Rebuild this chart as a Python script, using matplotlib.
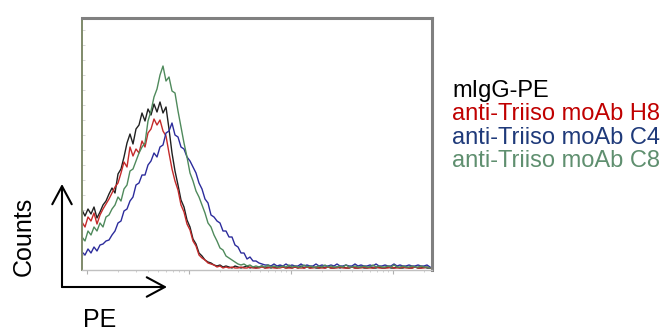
import numpy as np
import matplotlib
matplotlib.use("Agg")
import matplotlib.pyplot as plt
from matplotlib.patches import FancyArrowPatch

plt.rcParams['font.family'] = ['Liberation Sans', 'DejaVu Sans']

# histogram bins (channels), one value every 3 channels
channel = np.arange(0, 351, 3)

migg_pe = [60, 54, 61, 56, 63, 52, 58, 65, 69, 76,
           82, 77, 96, 101, 113, 127, 136, 126, 141, 145,
           157, 149, 161, 155, 166, 158, 168, 157, 163, 141,
           117, 99, 85, 70, 63, 50, 43, 31, 26, 17,
           14, 10, 8, 7, 5, 4, 5, 3, 4, 3,
           2, 4, 3, 2, 3, 4, 2, 3, 2, 3,
           4, 2, 3, 2, 3, 2, 4, 3, 2, 3,
           2, 3, 2, 4, 2, 3, 2, 3, 2, 2,
           3, 2, 3, 2, 2, 3, 2, 3, 2, 2,
           3, 2, 2, 3, 2, 2, 3, 2, 2, 3,
           2, 2, 3, 2, 2, 3, 2, 2, 3, 2,
           2, 3, 2, 2, 3, 2, 2]

moab_h8 = [48, 43, 53, 49, 57, 46, 55, 61, 66, 71,
           77, 83, 87, 97, 108, 103, 123, 114, 121, 117,
           129, 123, 137, 141, 151, 145, 150, 139, 134, 117,
           101, 89, 80, 65, 58, 46, 40, 29, 24, 15,
           12, 10, 7, 6, 5, 3, 4, 2, 3, 2,
           3, 2, 2, 3, 2, 2, 3, 2, 2, 2,
           3, 2, 2, 3, 2, 2, 2, 3, 2, 2,
           2, 3, 2, 2, 2, 3, 2, 2, 3, 2,
           2, 2, 3, 2, 2, 2, 3, 2, 2, 2,
           3, 2, 2, 2, 3, 2, 2, 2, 3, 2,
           2, 2, 2, 3, 2, 2, 2, 3, 2, 2,
           2, 3, 2, 2, 2, 3, 2]

moab_c4 = [18, 15, 21, 17, 23, 19, 25, 26, 29, 30,
           35, 39, 47, 49, 59, 61, 69, 73, 85, 87,
           95, 95, 105, 109, 117, 113, 123, 125, 137, 139,
           147, 135, 133, 123, 121, 113, 109, 103, 97, 87,
           81, 71, 67, 55, 53, 49, 47, 39, 39, 33,
           33, 25, 23, 17, 17, 11, 13, 9, 9, 7,
           6, 5, 5, 4, 6, 4, 5, 4, 6, 4,
           5, 4, 4, 6, 4, 5, 4, 4, 6, 4,
           5, 4, 4, 5, 4, 6, 4, 4, 5, 4,
           4, 6, 4, 5, 4, 4, 5, 4, 6, 4,
           4, 5, 4, 4, 6, 4, 5, 4, 4, 5,
           4, 4, 5, 4, 4, 5, 3]

moab_c8 = [33, 29, 39, 35, 43, 39, 47, 43, 53, 55,
           61, 65, 73, 69, 81, 85, 99, 101, 109, 117,
           123, 127, 149, 159, 173, 181, 195, 204, 189, 193,
           179, 177, 159, 143, 127, 113, 97, 89, 79, 73,
           65, 57, 47, 43, 35, 29, 22, 20, 14, 12,
           10, 8, 6, 5, 6, 4, 5, 3, 4, 3,
           4, 3, 5, 3, 4, 3, 3, 4, 3, 5,
           3, 4, 3, 3, 5, 3, 4, 3, 3, 4,
           3, 5, 3, 4, 3, 3, 4, 3, 5, 3,
           3, 4, 3, 3, 4, 3, 3, 5, 3, 4,
           3, 3, 4, 3, 5, 3, 3, 4, 3, 3,
           4, 3, 3, 4, 3, 3, 2]

labels = ['mIgG-PE', 'anti-Triiso moAb H8', 'anti-Triiso moAb C4', 'anti-Triiso moAb C8']
line_colors = ['#202020', '#c42a2a', '#2c2c9c', '#4f8a5c']
text_colors = ['#000000', '#c00000', '#1f3a7a', '#5f8f6f']

fig = plt.figure(figsize=(6.67, 3.31), dpi=100)
ax = fig.add_axes([82 / 667, 1 - 270 / 331, 350 / 667, 252 / 331])

for series, col in zip([migg_pe, moab_h8, moab_c4, moab_c8], line_colors):
    ax.plot(channel, series, color=col, lw=1.0)

ax.set_xlim(0, 350)
ax.set_ylim(0, 252)

# log-decade tick marks on the PE axis
decade = 102
major = [5 + decade * k for k in range(4)]
minor = [5 + decade * k + decade * np.log10(m) for k in range(4) for m in range(2, 10)]
minor = [m for m in minor if m < 350]
ax.set_xticks(major)
ax.set_xticks(minor, minor=True)
ax.tick_params(axis='x', which='major', length=3, width=0.8, color='#b0b0b0', labelbottom=False)
ax.tick_params(axis='x', which='minor', length=1.5, width=0.6, color='#c8c8c8')
ax.set_yticks(np.arange(0, 252, 15))
ax.tick_params(axis='y', length=2, width=0.6, color='#d0d0d0', direction='in', labelleft=False)

ax.spines['top'].set_color('#808080')
ax.spines['top'].set_linewidth(2.2)
ax.spines['right'].set_color('#808080')
ax.spines['right'].set_linewidth(2.2)
ax.spines['left'].set_color('#7f8a6a')
ax.spines['left'].set_linewidth(1.4)
ax.spines['bottom'].set_color('#c0c0c0')
ax.spines['bottom'].set_linewidth(1.0)

# axis arrows
corner = (62 / 667, 1 - 287 / 331)
for tip in [(62 / 667, 1 - 184 / 331), (167 / 667, 1 - 287 / 331)]:
    arr = FancyArrowPatch(corner, tip, transform=fig.transFigure,
                          arrowstyle='->,head_length=0.65,head_width=0.35',
                          mutation_scale=20, lw=1.5, color='black',
                          shrinkA=0, shrinkB=0)
    fig.add_artist(arr)

fig.text(24 / 667, 1 - 236 / 331, 'Counts', rotation=90, fontsize=18,
         ha='center', va='center')
fig.text(100 / 667, 4 / 331, 'PE', fontsize=18, ha='center', va='baseline')

for i, (lab, col) in enumerate(zip(labels, text_colors)):
    fig.text(452 / 667, 1 - (97 + 23.5 * i) / 331, lab, fontsize=17,
             color=col, ha='left', va='baseline')

fig.savefig('out.png', dpi=100)
